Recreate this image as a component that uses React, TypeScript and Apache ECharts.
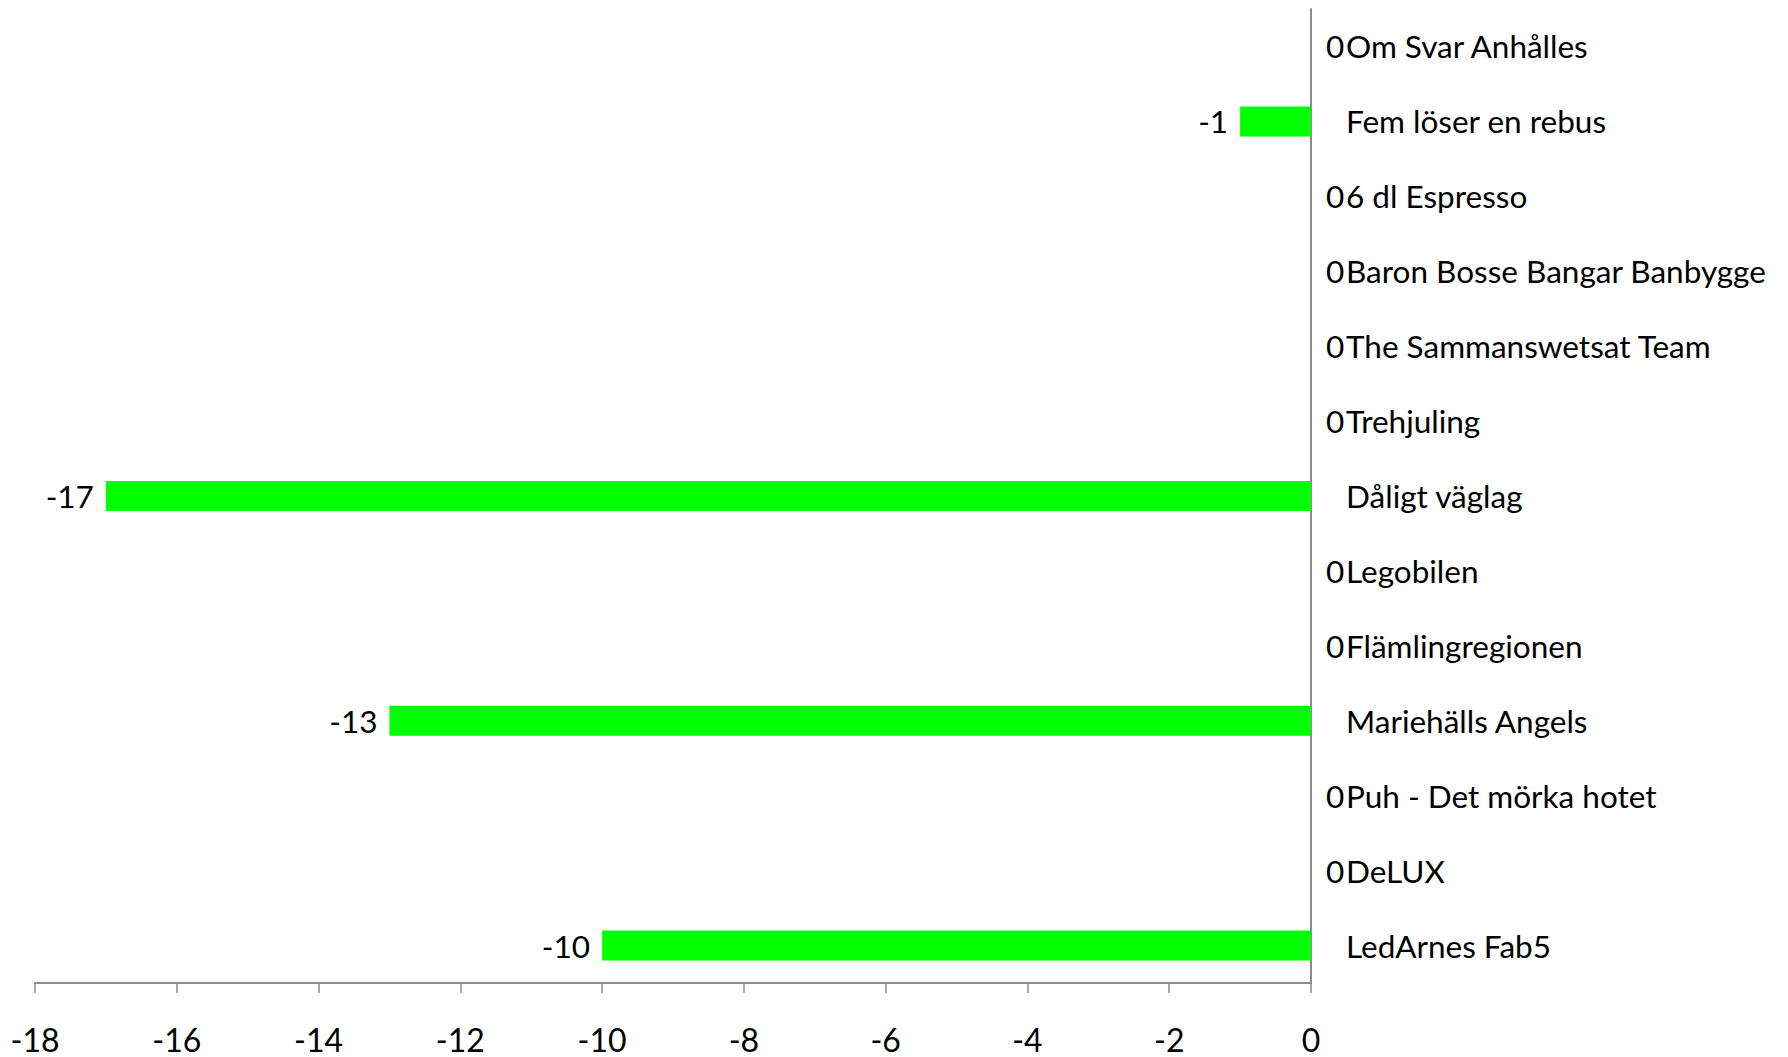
import React, { useEffect, useRef } from "react";
import * as echarts from "echarts";

const categories = [
  "Om Svar Anhålles",
  "Fem löser en rebus",
  "6 dl Espresso",
  "Baron Bosse Bangar Banbygge",
  "The Sammanswetsat Team",
  "Trehjuling",
  "Dåligt väglag",
  "Legobilen",
  "Flämlingregionen",
  "Mariehälls Angels",
  "Puh - Det mörka hotet",
  "DeLUX",
  "LedArnes Fab5",
];

const values = [0, -1, 0, 0, 0, 0, -17, 0, 0, -13, 0, 0, -10];

const xMin = -18;
const xMax = 0;
const xStep = 2;

const FONT = "Lato, 'Open Sans', sans-serif";

export default function App() {
  const ref = useRef<HTMLDivElement>(null);

  useEffect(() => {
    if (!ref.current) return;
    const chart = echarts.init(ref.current, null, { renderer: "svg" });
    chart.setOption({
      animation: false,
      backgroundColor: "#ffffff",
      grid: { left: 35, right: 477, top: 9, bottom: 74, containLabel: false },
      xAxis: {
        type: "value",
        min: xMin,
        max: xMax,
        interval: xStep,
        position: "bottom",
        splitLine: { show: false },
        axisLine: { show: true, lineStyle: { color: "#8c8c8c", width: 2 } },
        axisTick: { show: true, length: 10, lineStyle: { color: "#8c8c8c", width: 1.5 } },
        axisLabel: {
          color: "#000000",
          fontFamily: FONT,
          fontSize: 32,
          margin: 40,
        },
      },
      yAxis: {
        type: "category",
        data: categories,
        inverse: true,
        position: "right",
        axisLine: { show: true, onZero: false, lineStyle: { color: "#8c8c8c", width: 2 } },
        axisTick: { show: false },
        splitLine: { show: false },
        axisLabel: {
          color: "#000000",
          fontFamily: FONT,
          fontSize: 31.5,
          margin: 35,
          align: "left",
        },
      },
      series: [
        {
          type: "bar",
          barWidth: 30,
          itemStyle: { color: "#00ff00" },
          data: values.map((v) => ({
            value: v,
            label: {
              show: true,
              position: v < 0 ? "left" : "right",
              distance: v < 0 ? 12 : 15,
              color: "#000000",
              fontFamily: FONT,
              fontSize: 31.5,
            },
          })),
        },
      ],
    });
    return () => chart.dispose();
  }, []);

  return (
    <div
      ref={ref}
      style={{ position: "fixed", left: 0, top: 0, width: 1788, height: 1057, background: "#fff" }}
    />
  );
}
